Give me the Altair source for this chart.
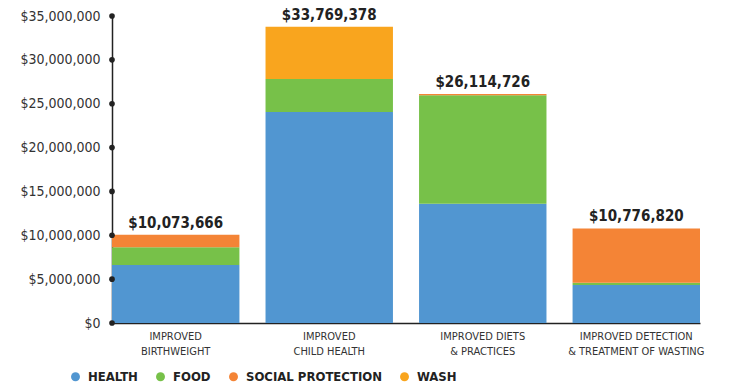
import altair as alt
import pandas as pd

categories = [
    "IMPROVED|BIRTHWEIGHT",
    "IMPROVED|CHILD HEALTH",
    "IMPROVED DIETS|& PRACTICES",
    "IMPROVED DETECTION|& TREATMENT OF WASTING",
]
series = ["HEALTH", "FOOD", "SOCIAL PROTECTION", "WASH"]
colors = ["#5196D1", "#77C149", "#F48436", "#F9A51E"]

health = [6600000, 24060000, 13600000, 4330000]
food = [2050000, 3760000, 12360000, 250000]
social = [1423666, 0, 154726, 6196820]
wash = [0, 5949378, 0, 0]
totals = [10073666, 33769378, 26114726, 10776820]
y_ticks = [0, 5000000, 10000000, 15000000, 20000000, 25000000, 30000000, 35000000]

rows = []
for i, c in enumerate(categories):
    for j, vals in enumerate([health, food, social, wash]):
        rows.append({"cat": c, "series": series[j], "order": j, "value": vals[i]})
df = pd.DataFrame(rows)
tot = pd.DataFrame({"cat": categories, "total": totals,
                    "label": ["${:,}".format(t) for t in totals]})
tick_df = pd.DataFrame({"value": y_ticks})

font = "DejaVu Sans Condensed, sans-serif"

x_enc = alt.X(
    "cat:N", sort=categories, title=None,
    scale=alt.Scale(paddingInner=0.17, paddingOuter=0),
    axis=alt.Axis(labelExpr="split(datum.label, '|')", labelAngle=0,
                  labelFontSize=11, labelLineHeight=15, labelColor="#333333",
                  labelFont=font, ticks=False, domainColor="#222222",
                  domainWidth=1.5, labelPadding=7, labelBaseline="top"),
)
y_scale = alt.Scale(domain=[0, 35000000], nice=False)

bars = alt.Chart(df).mark_bar().encode(
    x=x_enc,
    y=alt.Y("value:Q", stack="zero", scale=y_scale, title=None,
            axis=alt.Axis(values=y_ticks, format="$,.0f", grid=False, ticks=False,
                          labelFont=font, labelFontSize=14, labelColor="#333333",
                          domainColor="#222222", domainWidth=1.5, labelPadding=12)),
    color=alt.Color("series:N", sort=series,
                    scale=alt.Scale(domain=series, range=colors),
                    legend=alt.Legend(title=None, orient="none", direction="horizontal",
                                      legendX=-43, legendY=354, symbolType="circle",
                                      symbolSize=80, symbolStrokeWidth=0,
                                      labelFont=font, labelFontWeight="bold",
                                      labelFontSize=13, labelColor="#222222",
                                      columnPadding=16, labelOffset=6, padding=0)),
    order=alt.Order("order:Q"),
)

labels = alt.Chart(tot).mark_text(
    font=font, fontWeight="bold", fontSize=15, color="#222222", dy=-12
).encode(x=alt.X("cat:N", sort=categories), y=alt.Y("total:Q", scale=y_scale), text="label:N")

dots = alt.Chart(tick_df).mark_circle(size=32, color="#222222", opacity=1).encode(
    x=alt.value(0), y=alt.Y("value:Q", scale=y_scale)
)

chart = alt.layer(bars, labels, dots).properties(
    width=588, height=307,
    background="white",
    autosize=alt.AutoSizeParams(type="none"),
    padding={"left": 112, "top": 16, "right": 29, "bottom": 65},
).configure_view(stroke=None)

chart.save("out.html", embed_options={"renderer": "svg", "actions": False})
